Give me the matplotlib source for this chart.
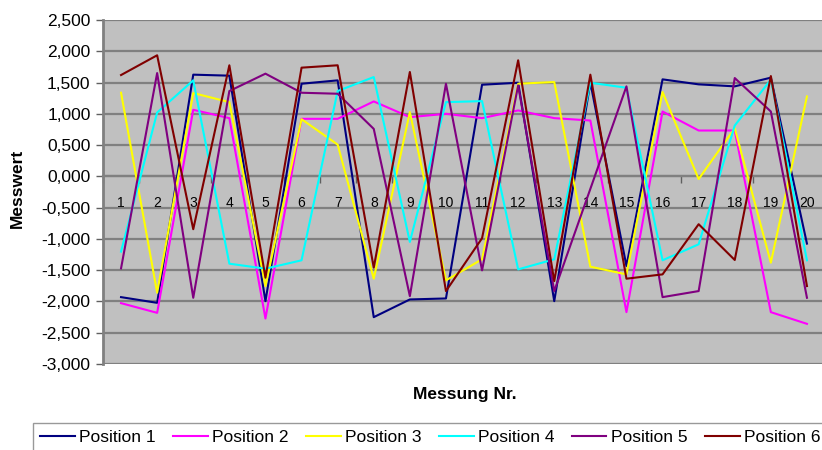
import matplotlib
matplotlib.use('Agg')
import matplotlib.pyplot as plt
import numpy as np

plt.rcParams['font.family'] = ['Liberation Sans', 'DejaVu Sans']

# Messwerte je Position (Messung 1..20)
messung = list(range(1, 21))
pos1 = [-1.931, -2.022, 1.626, 1.610, -1.995, 1.481, 1.535, -2.251, -1.968, -1.952,
        1.465, 1.497, -1.995, 1.500, -1.433, 1.551, 1.471, 1.439, 1.578, -1.075]
pos2 = [-2.027, -2.182, 1.064, 0.931, -2.273, 0.920, 0.920, 1.198, 0.947, 1.000,
        0.931, 1.054, 0.931, 0.893, -2.171, 1.037, 0.733, 0.733, -2.171, -2.358]
pos3 = [1.337, -1.861, 1.332, 1.187, -1.754, 0.914, 0.508, -1.636, 1.027, -1.663,
        -1.326, 1.481, 1.508, -1.444, -1.567, 1.348, -0.043, 0.770, -1.380, 1.278]
pos4 = [-1.203, 1.021, 1.535, -1.396, -1.476, -1.342, 1.364, 1.588, -1.048, 1.187,
        1.203, -1.487, -1.326, 1.497, 1.417, -1.342, -1.086, 0.813, 1.546, -1.342]
pos5 = [-1.471, 1.652, -1.941, 1.364, 1.642, 1.337, 1.321, 0.759, -1.915, 1.481,
        -1.503, 1.455, -1.834, -0.200, 1.439, -1.931, -1.834, 1.572, 1.037, -1.941]
pos6 = [1.620, 1.936, -0.845, 1.776, -1.620, 1.738, 1.776, -1.460, 1.669, -1.834,
        -0.989, 1.856, -1.674, 1.626, -1.636, -1.567, -0.765, -1.337, 1.604, -1.754]

serien = [pos1, pos2, pos3, pos4, pos5, pos6]
namen = ['Position 1', 'Position 2', 'Position 3', 'Position 4', 'Position 5', 'Position 6']
farben = ['#000080', '#ff00ff', '#ffff00', '#00ffff', '#800080', '#800000']

W, H = 822, 450
fig = plt.figure(figsize=(W / 100, H / 100), dpi=100)
ax = fig.add_axes([103 / W, 1 - 364 / H, 722 / W, 344 / H])
ax.set_facecolor('#c0c0c0')

for werte, name, farbe in zip(serien, namen, farben):
    ax.plot(messung, werte, color=farbe, lw=1.5, label=name, zorder=3)

ax.set_xlim(0.5, 20.5)
ax.set_ylim(-3, 2.5)

# y-Achse mit deutschem Dezimalkomma
yt = np.arange(-3, 2.51, 0.5)
ax.set_yticks(yt)
ax.set_yticklabels([f'{v:.3f}'.replace('.', ',') for v in yt], fontsize=12.5)
ax.tick_params(axis='y', length=5, width=1, color='#606060', pad=4)
ax.grid(axis='y', color='#808080', lw=1.6)
ax.set_axisbelow(True)

# x-Achse liegt bei 0
ax.set_xticks(messung)
ax.set_xticklabels([str(m) for m in messung], fontsize=12.5)
ax.set_xticks(np.arange(0.5, 20.6, 1), minor=True)
ax.tick_params(axis='x', which='major', length=0, pad=14)
ax.tick_params(axis='x', which='minor', length=5, width=1, color='#606060', direction='out')

for s in ['top', 'right']:
    ax.spines[s].set_visible(False)
ax.spines['left'].set_color('#808080')
ax.spines['left'].set_linewidth(2)
ax.spines['bottom'].set_position(('data', 0))
ax.spines['bottom'].set_color('#808080')
ax.spines['bottom'].set_linewidth(1.6)

fig.text(17 / W, 1 - 188 / H, 'Messwert', rotation=90, ha='center', va='center',
         fontsize=12.5, fontweight='bold')
fig.text(465 / W, 1 - 395 / H, 'Messung Nr.', ha='center', va='center',
         fontsize=12.5, fontweight='bold')

leg = fig.legend(loc='upper left', bbox_to_anchor=(33 / W, 1 - 423 / H), ncol=6,
                 fontsize=12.5, frameon=True, fancybox=False, edgecolor='#808080',
                 handlelength=2.0, handletextpad=0.25, columnspacing=1.0,
                 borderpad=0.4, borderaxespad=0)
leg.get_frame().set_linewidth(1)

fig.savefig('out.png', dpi=100)
